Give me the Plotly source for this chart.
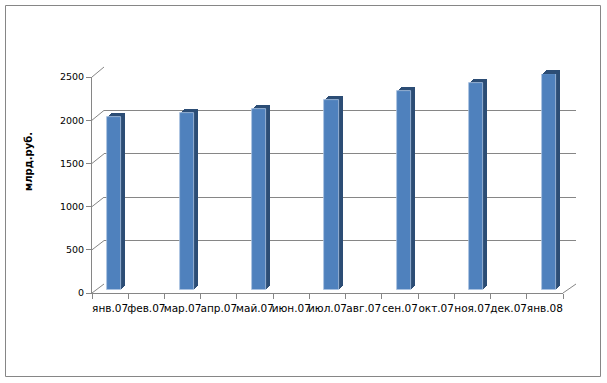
import plotly.graph_objects as go

# ---- data ----
categories = ["янв.07", "фев.07", "мар.07", "апр.07", "май.07", "июн.07", "июл.07",
              "авг.07", "сен.07", "окт.07", "ноя.07", "дек.07", "янв.08"]
values = [2000, None, 2050, None, 2100, None, 2200, None, 2300, None, 2400, None, 2500]
y_ticks = [0, 500, 1000, 1500, 2000, 2500]
y_title = "млрд.руб."

# ---- geometry helpers (pixel -> paper) ----
W, H = 607, 383
ML, MR, MT, MB = 60, 20, 40, 70
PW, PH = W - ML - MR, H - MT - MB


def px(x):
    return (x - ML) / PW


def py(y):
    return (H - MB - y) / PH


YMAX = 2500
front = dict(x0=92, x1=563, yb=293, yt=77)     # front axes
back = dict(x0=104, x1=576, yb=284, yt=67)     # back wall (gridlines)
face = dict(x0=96, x1=567, yb=290, yt=74)      # bar front faces
depth = [(4, 4), (3, 3), (2, 2), (1, 1)]       # extrusion steps (dx, dy up)


def yfront(v):
    return front["yb"] - v * (front["yb"] - front["yt"]) / YMAX


def yback(v):
    return back["yb"] - v * (back["yb"] - back["yt"]) / YMAX


FONT = "DejaVu Sans"
GRAY = "#868686"

fig = go.Figure()

layout_axes = {}


def cat_axis(dom, **kw):
    d = dict(type="category", categoryorder="array", categoryarray=categories,
             range=[-0.5, len(categories) - 0.5], domain=dom, fixedrange=True)
    d.update(kw)
    return d


def val_axis(dom, anchor, **kw):
    d = dict(range=[0, YMAX], domain=dom, anchor=anchor, fixedrange=True,
             zeroline=False)
    d.update(kw)
    return d


hidden = dict(showgrid=False, showline=False, showticklabels=False, ticks="", zeroline=False)

# invisible traces to anchor the front and back axes
fig.add_trace(go.Scatter(x=categories, y=[None] * len(categories), xaxis="x", yaxis="y",
                         mode="markers", showlegend=False, hoverinfo="skip"))
fig.add_trace(go.Scatter(x=categories, y=[None] * len(categories), xaxis="x2", yaxis="y2",
                         mode="markers", showlegend=False, hoverinfo="skip"))

# bar extrusion layers, back to front, then the front face
ax_id = 3
for (dx, dy) in depth:
    fig.add_trace(go.Bar(x=categories, y=values, xaxis=f"x{ax_id}", yaxis=f"y{ax_id}",
                         width=0.39, marker=dict(color="#2c4d75", line=dict(width=0)),
                         hoverinfo="skip", showlegend=False))
    layout_axes[f"xaxis{ax_id}"] = cat_axis([px(face["x0"] + dx), px(face["x1"] + dx)],
                                            anchor=f"y{ax_id}", **hidden)
    layout_axes[f"yaxis{ax_id}"] = val_axis([py(face["yb"] - dy), py(face["yt"] - dy)],
                                            f"x{ax_id}", showgrid=False, showline=False,
                                            showticklabels=False, ticks="")
    ax_id += 1

fig.add_trace(go.Bar(x=categories, y=values, xaxis=f"x{ax_id}", yaxis=f"y{ax_id}", width=0.39,
                     marker=dict(color="#4f81bd", line=dict(color="#a9c1e0", width=0.8)),
                     hoverinfo="skip", showlegend=False))
layout_axes[f"xaxis{ax_id}"] = cat_axis([px(face["x0"]), px(face["x1"])],
                                        anchor=f"y{ax_id}", **hidden)
layout_axes[f"yaxis{ax_id}"] = val_axis([py(face["yb"]), py(face["yt"])], f"x{ax_id}",
                                        showgrid=False, showline=False,
                                        showticklabels=False, ticks="")

fig.update_layout(
    width=W, height=H,
    margin=dict(l=ML, r=MR, t=MT, b=MB),
    paper_bgcolor="white", plot_bgcolor="rgba(0,0,0,0)",
    bargap=0, hovermode=False,
    font=dict(family=FONT, color="black"),
    # front axes (labels, ticks, axis lines)
    xaxis=cat_axis([px(front["x0"]), px(front["x1"])], anchor="y",
                   showline=True, linecolor=GRAY, linewidth=1, showgrid=False,
                   ticks="outside", tickson="boundaries", ticklen=5, tickcolor=GRAY,
                   ticklabelstandoff=5,
                   tickfont=dict(size=10.5, family=FONT, color="black"), tickangle=0),
    yaxis=val_axis([py(front["yb"]), py(front["yt"])], "x",
                   showline=True, linecolor=GRAY, linewidth=1, showgrid=False,
                   tickmode="array", tickvals=y_ticks, ticks="outside", ticklen=5,
                   tickcolor=GRAY, tickfont=dict(size=9.5, family=FONT, color="black")),
    # back wall gridlines
    xaxis2=cat_axis([px(back["x0"]), px(back["x1"])], anchor="y2", **hidden),
    yaxis2=val_axis([py(back["yb"]), py(back["yt"])], "x2",
                    showgrid=True, gridcolor=GRAY, gridwidth=1, showline=False,
                    showticklabels=False, ticks="", tickmode="array", tickvals=y_ticks),
    **layout_axes,
)

shapes = []
# outer chart border
shapes.append(dict(type="rect", xref="paper", yref="paper",
                   x0=px(5.5), x1=px(600.5), y0=py(376.5), y1=py(5.5),
                   line=dict(color=GRAY, width=1), fillcolor="rgba(0,0,0,0)", layer="below"))
# diagonal connectors from front axis ticks to back wall gridlines
for v in y_ticks:
    shapes.append(dict(type="line", xref="paper", yref="paper",
                       x0=px(front["x0"]), y0=py(yfront(v)),
                       x1=px(back["x0"]), y1=py(yback(v)),
                       line=dict(color=GRAY, width=1)))
# right floor edge
shapes.append(dict(type="line", xref="paper", yref="paper",
                   x0=px(front["x1"]), y0=py(yfront(0)),
                   x1=px(back["x1"]), y1=py(yback(0)),
                   line=dict(color=GRAY, width=1)))
fig.update_layout(shapes=shapes)

fig.add_annotation(text="<b>" + y_title + "</b>", xref="paper", yref="paper",
                   x=px(28), y=py(162), textangle=-90, showarrow=False,
                   font=dict(size=10, family=FONT, color="black"),
                   xanchor="center", yanchor="middle")

fig.write_html("out.html")
